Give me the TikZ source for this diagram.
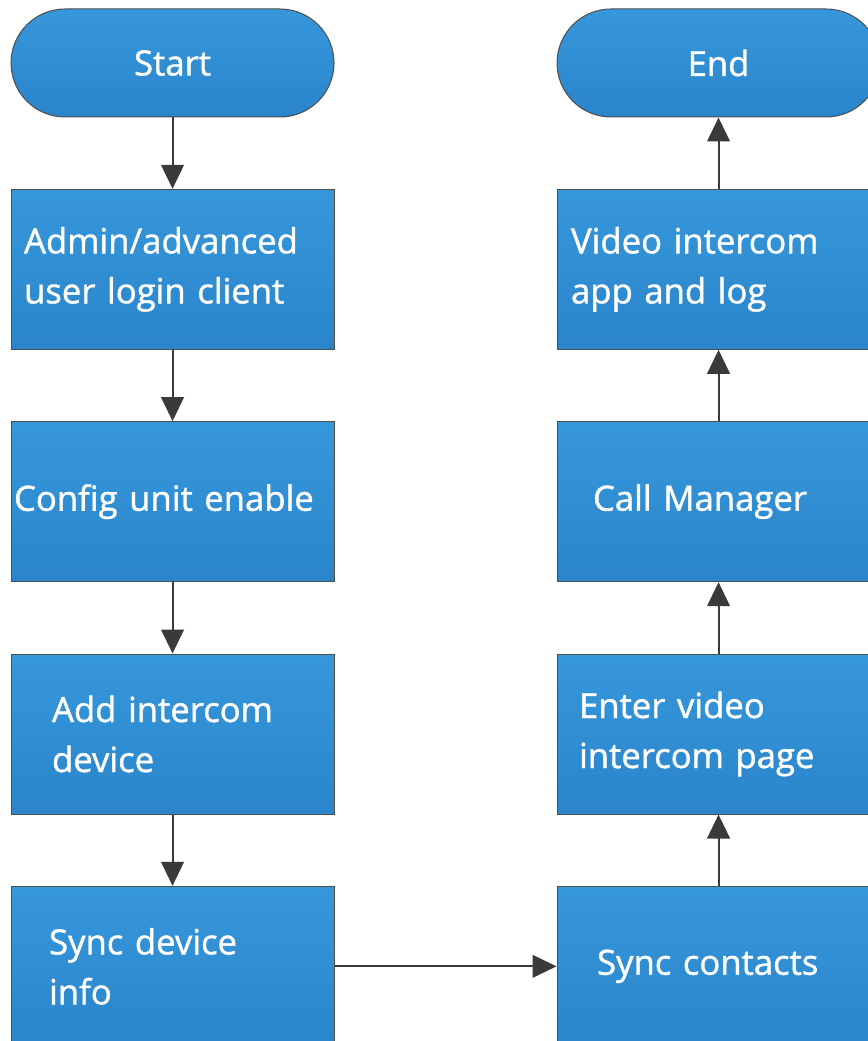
\documentclass[tikz,border=0pt]{standalone}
\usepackage{fontspec}
\setmainfont{Open Sans}
\newfontfamily\flowfont{Open Sans}[FakeBold=1.2]
\usepackage{tikz}
\usetikzlibrary{arrows.meta,positioning}
\hyphenpenalty=10000
\exhyphenpenalty=10000
\definecolor{flowtop}{HTML}{3797DB}
\definecolor{flowbottom}{HTML}{2A85CB}
\definecolor{flowedge}{HTML}{4D4D4D}
\definecolor{flowarrowc}{HTML}{3A3A3A}
\tikzset{%
  flowbox/.style={%
    draw=flowedge,
    line width=0.75pt,
    top color=flowtop,
    bottom color=flowbottom,
    minimum width=242.25pt,
    minimum height=120pt,
    align=left,
    text=white,
    font=\flowfont\fontsize{26pt}{37.5pt}\selectfont
  },
  flowterm/.style={%
    flowbox,
    minimum height=81pt,
    rounded corners=40.5pt,
    align=center
  },
  flowarrow/.style={-{Triangle[length=18pt,width=17pt]},line width=1.5pt,draw=flowarrowc}
}

\begin{document}
\begin{tikzpicture}[node distance=53.5pt]
    \useasboundingbox (0,0) rectangle (650.25pt,-780.75pt);
    % left column, top to bottom
    \node[flowterm] (start) at (129.4pt,-47.25pt) {Start};
    \node[flowbox,below=of start,inner xsep=9.75pt,text width=222.75pt] (login) {Admin/advanced\\user login client};
    \node[flowbox,below=of login,inner xsep=2.25pt,text width=237.75pt] (unit) {Config unit enable};
    \node[flowbox,below=of unit,inner xsep=30.75pt,text width=180.75pt] (device) {Add intercom\\device};
    \node[flowbox,below=of device,inner xsep=28.5pt,text width=185.25pt] (syncdev) {Sync device\\info};
    % right column, bottom to top
    \node[flowbox,right=166.5pt of syncdev,inner xsep=30pt,text width=182.25pt] (contacts) {Sync contacts};
    \node[flowbox,above=of contacts,inner xsep=16.5pt,text width=209.25pt] (page) {Enter video\\intercom page};
    \node[flowbox,above=of page,inner xsep=27pt,text width=188.25pt] (callmgr) {Call Manager};
    \node[flowbox,above=of callmgr,inner xsep=10.5pt,text width=221.25pt] (applog) {Video intercom\\app and log};
    \node[flowterm,above=of applog] (end) {End};

    \draw[flowarrow] (start) -- (login);
    \draw[flowarrow] (login) -- (unit);
    \draw[flowarrow] (unit) -- (device);
    \draw[flowarrow] (device) -- (syncdev);
    \draw[flowarrow] (syncdev) -- (contacts);
    \draw[flowarrow] (contacts) -- (page);
    \draw[flowarrow] (page) -- (callmgr);
    \draw[flowarrow] (callmgr) -- (applog);
    \draw[flowarrow] (applog) -- (end);
\end{tikzpicture}
\end{document}
